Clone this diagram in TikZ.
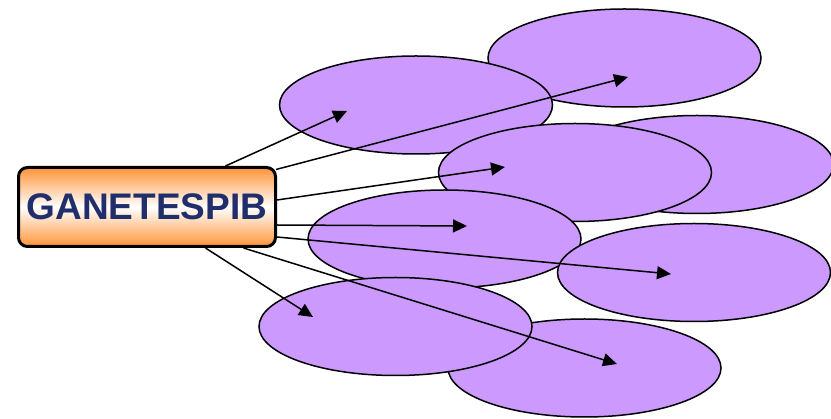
\documentclass[tikz,border=0pt]{standalone}
\usepackage{fontspec}
\setmainfont{Liberation Sans}
\usetikzlibrary{arrows.meta,shapes.geometric,calc}
\definecolor{lilac}{HTML}{CC99FF}
\definecolor{navy}{RGB}{32,46,108}
\definecolor{orng}{HTML}{FF9438}
\begin{document}
\begin{tikzpicture}[x=1pt,y=-1pt,
  blob/.style={ellipse, draw=black, line width=1.5pt, fill=lilac, minimum width=273pt, minimum height=98pt, inner sep=0pt},
  link/.style={draw=black, line width=1.5pt, -{Triangle[length=14pt,width=13pt]}},
  drug/.style={rectangle, rounded corners=9pt, draw=black, line width=3pt, top color=orng, bottom color=orng, middle color=white, minimum width=257pt, minimum height=79pt, inner sep=0pt, font=\bfseries\fontsize{37}{40}\selectfont, text=navy}]
\useasboundingbox (0,0) rectangle (831,419);
% ellipses, back to front
\node[blob] (e1) at (624.5,58) {};
\node[blob] (e2) at (416,105) {};
\node[blob] (e3) at (697,164.5) {};
\node[blob] (e4) at (575,172.5) {};
\node[blob] (e5) at (444.5,239) {};
\node[blob] (e6) at (694,272.5) {};
\node[blob] (e8) at (584.5,368) {};
\node[blob] (e7) at (395.5,326.5) {};
% drug box
\node[drug] (g) at (147,207) {GANETESPIB};
% arrow start points on the box border
\coordinate (s1) at ($(g.north west)+(208.5,0)$);
\coordinate (s2) at ($(g.north east)+(-1,3.5)$);
\coordinate (s3) at ($(g.east)+(0,-7)$);
\coordinate (s4) at ($(g.east)+(0,18)$);
\coordinate (s5) at ($(g.east)+(0,30)$);
\coordinate (s6) at ($(g.south west)+(188.5,0)$);
\coordinate (s7) at ($(g.south west)+(226.5,0)$);
% arrow tips inside the ellipses
\coordinate (t1) at (347,111);
\coordinate (t2) at (628,77);
\coordinate (t3) at (505,167);
\coordinate (t4) at (467,226);
\coordinate (t5) at (671,274);
\coordinate (t6) at (313,317);
\coordinate (t7) at (617,364);
\draw[link] (s1) -- (t1);
\draw[link] (s2) -- (t2);
\draw[link] (s3) -- (t3);
\draw[link] (s4) -- (t4);
\draw[link] (s5) -- (t5);
\draw[link] (s6) -- (t6);
\draw[link] (s7) -- (t7);
\end{tikzpicture}
\end{document}
